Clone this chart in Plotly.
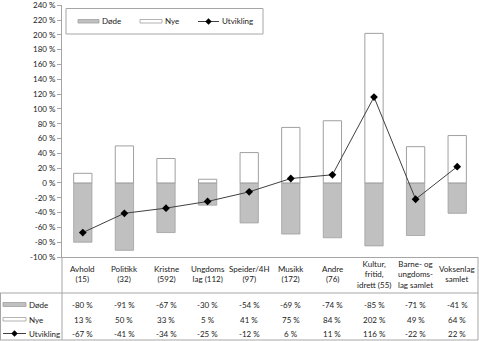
import plotly.graph_objects as go

# Organisation types (with count) and change figures in percent
categories = ["Avhold<br>(15)", "Politikk<br>(32)", "Kristne<br>(592)", "Ungdoms<br>lag (112)",
              "Speider/4H<br>(97)", "Musikk<br>(172)", "Andre<br>(76)",
              "Kultur,<br>fritid,<br>idrett (55)", "Barne- og<br>ungdoms-<br>lag samlet",
              "Voksenlag<br>samlet"]
dode = [-80, -91, -67, -30, -54, -69, -74, -85, -71, -41]
nye = [13, 50, 33, 5, 41, 75, 84, 202, 49, 64]
utvikling = [-67, -41, -34, -25, -12, 6, 11, 116, -22, 22]
y_ticks = list(range(-100, 241, 20))

W, H = 479, 341
ML, MR, MT, MB = 62, 1, 5, 84
PW, PH = W - ML - MR, H - MT - MB
Y0, Y1 = -100, 240.3

FONT = "Lato"
FS = 8
TXT = "#222"
GREY_FILL = "#c0c0c0"
EDGE = "#a0a0a0"
AXIS = "#a6a6a6"


def px(x):
    return (x - ML) / PW


def py(y):
    return (H - MB - y) / PH


def diamond(xp, yp, r=3.2):
    return dict(type="path", xref="paper", yref="paper", xsizemode="pixel", ysizemode="pixel",
                xanchor=px(xp), yanchor=py(yp),
                path=f"M0,{r} L{r},0 L0,-{r} L-{r},0 Z",
                fillcolor="black", line=dict(color="black", width=0))


xs = list(range(len(categories)))

fig = go.Figure()
fig.add_trace(go.Bar(x=xs, y=dode, name="Døde", width=0.44,
                     marker=dict(color=GREY_FILL, line=dict(color=EDGE, width=0.8))))
fig.add_trace(go.Bar(x=xs, y=nye, name="Nye", width=0.44,
                     marker=dict(color="white", line=dict(color=EDGE, width=1))))
fig.add_trace(go.Scatter(x=xs, y=utvikling, name="Utvikling", mode="lines+markers",
                         line=dict(color="#404040", width=1),
                         marker=dict(symbol="diamond", size=6, color="black")))

shapes = []
annotations = []
font = dict(size=FS, family=FONT, color=TXT)

# Category header and data table below the plot
for i, cat in enumerate(categories):
    annotations.append(dict(x=i, y=py(274), xref="x", yref="paper", text=cat,
                            showarrow=False, yanchor="middle", xanchor="center", font=font))

rows = [("Døde", dode, 305), ("Nye", nye, 319.5), ("Utvikling", utvikling, 333.5)]
for name, vals, yy in rows:
    for i, v in enumerate(vals):
        annotations.append(dict(x=i, y=py(yy), xref="x", yref="paper", text=f"{v} %",
                                showarrow=False, yanchor="middle", xanchor="center", font=font))
    annotations.append(dict(x=px(27), y=py(yy), xref="paper", yref="paper", text=name,
                            showarrow=False, yanchor="middle", xanchor="left", font=font))

# Row-label key symbols
shapes.append(dict(type="rect", xref="paper", yref="paper", x0=px(3), x1=px(26),
                   y0=py(306.5), y1=py(302.5), fillcolor=GREY_FILL, line=dict(color=EDGE, width=0.8)))
shapes.append(dict(type="rect", xref="paper", yref="paper", x0=px(3), x1=px(26),
                   y0=py(321), y1=py(317.5), fillcolor="white", line=dict(color=EDGE, width=0.8)))
shapes.append(dict(type="line", xref="paper", yref="paper", x0=px(3), x1=px(26),
                   y0=py(333.5), y1=py(333.5), line=dict(color="#404040", width=1)))
shapes.append(diamond(14.5, 333.5))

# Table borders
for x0, x1, yy in [(0, 478, 293), (0, 478, 340)]:
    shapes.append(dict(type="line", xref="paper", yref="paper", x0=px(x0), x1=px(x1),
                       y0=py(yy), y1=py(yy), line=dict(color=AXIS, width=1)))
for xx, y0, y1 in [(0.5, 293, 340), (478, 257, 340), (62, 257, 340)]:
    shapes.append(dict(type="line", xref="paper", yref="paper", x0=px(xx), x1=px(xx),
                       y0=py(y0), y1=py(y1), line=dict(color=AXIS, width=1)))

# Legend box at the top
shapes.append(dict(type="rect", xref="paper", yref="paper", x0=px(66), x1=px(263),
                   y0=py(34), y1=py(8.5), fillcolor="white", line=dict(color=AXIS, width=1)))
shapes.append(dict(type="rect", xref="paper", yref="paper", x0=px(78), x1=px(99),
                   y0=py(23), y1=py(19.5), fillcolor=GREY_FILL, line=dict(color=EDGE, width=0.8)))
shapes.append(dict(type="rect", xref="paper", yref="paper", x0=px(140), x1=px(162),
                   y0=py(23), y1=py(19.5), fillcolor="white", line=dict(color=EDGE, width=0.8)))
shapes.append(dict(type="line", xref="paper", yref="paper", x0=px(198), x1=px(219),
                   y0=py(21.5), y1=py(21.5), line=dict(color="#404040", width=1)))
shapes.append(diamond(208.5, 21.5))
for label, xx in [("Døde", 100), ("Nye", 162.5), ("Utvikling", 219.5)]:
    annotations.append(dict(x=px(xx), y=py(21.5), xref="paper", yref="paper", text=label,
                            showarrow=False, yanchor="middle", xanchor="left", font=font))

fig.update_layout(
    width=W, height=H,
    margin=dict(l=ML, r=MR, t=MT, b=MB),
    paper_bgcolor="white", plot_bgcolor="white",
    barmode="relative", bargap=0.56,
    showlegend=False,
    shapes=shapes, annotations=annotations,
    font=font,
    xaxis=dict(range=[-0.5, len(categories) - 0.5], showticklabels=False, ticks="",
               showline=True, linecolor=AXIS, linewidth=1, showgrid=False, zeroline=False,
               fixedrange=True, automargin=False),
    yaxis=dict(range=[Y0, Y1], tickvals=y_ticks,
               ticktext=[f"{v} %" for v in y_ticks],
               ticks="outside", ticklen=4, tickcolor=AXIS, showline=True, linecolor=AXIS,
               linewidth=1, showgrid=False, zeroline=False, fixedrange=True, automargin=False,
               ticklabeloverflow="allow", tickfont=font),
)

fig.write_html("out.html")
